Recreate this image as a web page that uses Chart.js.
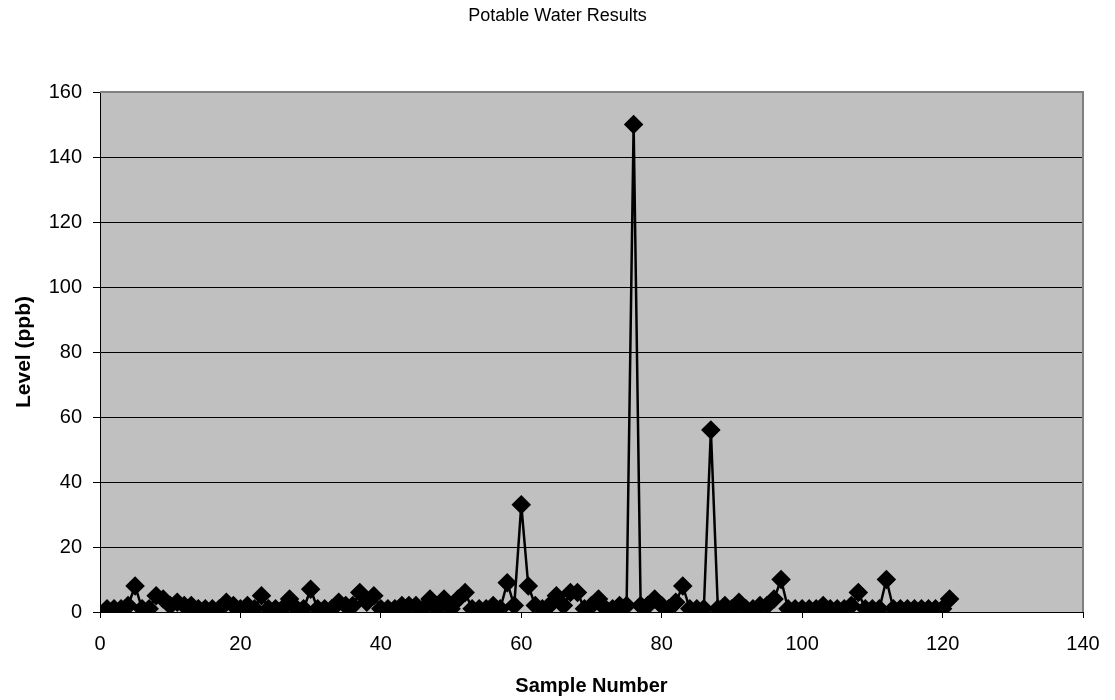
<!DOCTYPE html>
<html>
<head>
<meta charset="utf-8">
<title>Potable Water Results</title>
<script src="https://cdn.jsdelivr.net/npm/chart.js@4/dist/chart.umd.min.js"></script>
<style>
  html, body { margin: 0; padding: 0; background: #fff; }
  #wrap { width: 1115px; height: 700px; }
</style>
</head>
<body>
<div id="wrap"><canvas id="chart" width="1115" height="700"></canvas></div>
<script>
  const sampleNumbers = [
    1, 2, 3, 4, 5, 6, 7, 8, 9, 10, 11, 12, 13, 14, 15, 16, 17, 18, 19, 20,
    21, 22, 23, 24, 25, 26, 27, 28, 29, 30, 31, 32, 33, 34, 35, 36, 37, 38, 39, 40,
    41, 42, 43, 44, 45, 46, 47, 48, 49, 50, 51, 52, 53, 54, 55, 56, 57, 58, 59, 60,
    61, 62, 63, 64, 65, 66, 67, 68, 69, 70, 71, 72, 73, 74, 75, 76, 77, 78, 79, 80,
    81, 82, 83, 84, 85, 86, 87, 88, 89, 90, 91, 92, 93, 94, 95, 96, 97, 98, 99, 100,
    101, 102, 103, 104, 105, 106, 107, 108, 109, 110, 111, 112, 113, 114, 115, 116, 117, 118, 119, 120,
    121
  ];
  const levels = [
    1, 1, 1, 2, 8, 1, 1, 5, 4, 2, 3, 2, 2, 1, 1, 1, 1, 3, 2, 1,
    2, 1, 5, 1, 1, 1, 4, 1, 1, 7, 1, 1, 1, 3, 2, 2, 6, 3, 5, 1,
    1, 1, 2, 2, 2, 1, 4, 1, 4, 1, 4, 6, 1, 1, 1, 2, 1, 9, 2, 33,
    8, 2, 1, 2, 5, 2, 6, 6, 1, 2, 4, 1, 1, 2, 2, 150, 2, 2, 4, 2,
    1, 3, 8, 1, 1, 1, 56, 1, 2, 1, 3, 1, 1, 2, 2, 4, 10, 1, 1, 1,
    1, 1, 2, 1, 1, 1, 2, 6, 1, 1, 1, 10, 1, 1, 1, 1, 1, 1, 1, 1,
    4
  ];
  const xTicks = [0, 20, 40, 60, 80, 100, 120, 140];
  const yTicks = [0, 20, 40, 60, 80, 100, 120, 140, 160];
  const chartTitle = "Potable Water Results";

  const FONT = "'Liberation Sans', Arial, sans-serif";

  // grey plot background, grey frame and the title centred on the page
  const plotDecor = {
    id: "plotDecor",
    beforeDraw(chart) {
      const { ctx, chartArea: a } = chart;
      ctx.save();
      ctx.fillStyle = "#C0C0C0";
      ctx.fillRect(a.left, a.top, a.right - a.left, a.bottom - a.top);
      ctx.fillStyle = "#000";
      ctx.font = "18px " + FONT;
      ctx.textAlign = "center";
      ctx.textBaseline = "middle";
      ctx.fillText(chartTitle, chart.width / 2, 16);
      ctx.restore();
    },
    afterDatasetsDraw(chart) {
      const { ctx, chartArea: a } = chart;
      ctx.save();
      ctx.strokeStyle = "#808080";
      ctx.lineWidth = 2;
      ctx.beginPath();
      ctx.moveTo(a.left, a.top);
      ctx.lineTo(a.right, a.top);
      ctx.lineTo(a.right, a.bottom);
      ctx.stroke();
      ctx.restore();
    }
  };

  const points = sampleNumbers.map((n, i) => ({ x: n, y: levels[i] }));

  new Chart(document.getElementById("chart"), {
    type: "scatter",
    data: {
      datasets: [{
        data: points,
        showLine: true,
        borderColor: "#000",
        borderWidth: 2.5,
        backgroundColor: "#000",
        pointStyle: "rectRot",
        pointRadius: 8,
        pointHoverRadius: 8,
        tension: 0
      }]
    },
    options: {
      responsive: false,
      animation: false,
      layout: { padding: { left: 12, right: 32, top: 92, bottom: 0 } },
      plugins: {
        legend: { display: false },
        tooltip: { enabled: false },
        title: { display: false }
      },
      scales: {
        x: {
          type: "linear",
          min: 0,
          max: 140,
          afterBuildTicks: (s) => { s.ticks = xTicks.map(v => ({ value: v })); },
          afterFit: (s) => { s.height = 88; },
          ticks: { color: "#000", font: { family: FONT, size: 20 }, padding: 14 },
          grid: { drawOnChartArea: false, drawTicks: true, tickLength: 6, color: "#000" },
          border: { color: "#000", width: 1 },
          title: {
            display: true,
            text: "Sample Number",
            color: "#000",
            font: { family: FONT, size: 20, weight: "bold" },
            padding: { top: 4, bottom: 2 }
          }
        },
        y: {
          min: 0,
          max: 160,
          afterBuildTicks: (s) => { s.ticks = yTicks.map(v => ({ value: v })); },
          afterFit: (s) => { s.width = 88; },
          ticks: { color: "#000", font: { family: FONT, size: 20 }, padding: 11 },
          grid: { color: "#000", lineWidth: 1, tickLength: 7, tickColor: "#000" },
          border: { color: "#000", width: 1 },
          title: {
            display: true,
            text: "Level (ppb)",
            color: "#000",
            font: { family: FONT, size: 21, weight: "bold" },
            padding: { top: 0, bottom: 0 }
          }
        }
      }
    },
    plugins: [plotDecor]
  });
</script>
</body>
</html>
